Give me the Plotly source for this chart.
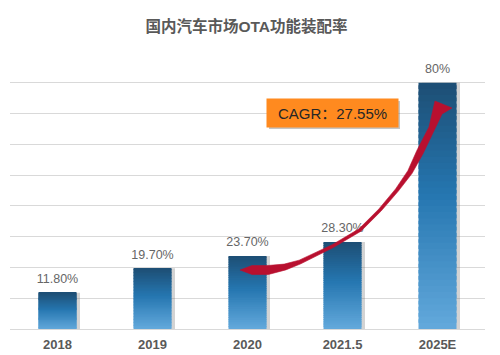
import math
import plotly.graph_objects as go

# ---- data ----
categories = ["2018", "2019", "2020", "2021.5", "2025E"]
values = [11.8, 19.7, 23.7, 28.3, 80.0]
value_labels = ["11.80%", "19.70%", "23.70%", "28.30%", "80%"]
title_text = "国内汽车市场OTA功能装配率"
cagr_text = "CAGR：27.55%"

FONT = "Arial, 'Liberation Sans', 'Noto Sans CJK SC', sans-serif"

# plot area in pixels (for decorative shapes)
X0, X1, YT, YB = 10, 485, 52, 329


def pp(x, y):
    return (x - X0) / (X1 - X0), (YB - y) / (YB - YT)


def hex2rgb(h):
    h = h.lstrip("#")
    return tuple(int(h[i:i + 2], 16) for i in (0, 2, 4))


stops = [(0.0, hex2rgb("#63a9dc")), (0.55, hex2rgb("#2576b0")), (1.0, hex2rgb("#1d4e74"))]


def grad(f):
    for (f0, c0), (f1, c1) in zip(stops[:-1], stops[1:]):
        if f0 <= f <= f1:
            t = (f - f0) / (f1 - f0)
            return "rgb(%d,%d,%d)" % tuple(round(a + (b - a) * t) for a, b in zip(c0, c1))
    return "rgb(%d,%d,%d)" % stops[-1][1]


fig = go.Figure()

# soft shadow to the right of each bar
fig.add_trace(go.Bar(
    x=categories, y=values, base=[0] * len(values), width=0.4, offset=-0.2 + 3.5 / 95,
    marker=dict(color="rgba(110,110,110,0.30)", line=dict(width=0)),
    hoverinfo="skip", showlegend=False,
))

# gradient bars built from overlapping slices of each value
N = 40
for k in range(N):
    f = (k + 0.5) / N
    top = min((k + 1.6) / N, 1.0)
    fig.add_trace(go.Bar(
        x=categories,
        y=[v * (top - k / N) for v in values],
        base=[v * k / N for v in values],
        width=0.4,
        marker=dict(color=grad(f), line=dict(width=0)),
        hoverinfo="skip", showlegend=False,
    ))

# value labels (invisible markers lift the text a little above the bar tops)
fig.add_trace(go.Scatter(
    x=categories, y=values, mode="markers+text", text=value_labels,
    textposition="top center",
    marker=dict(size=9, opacity=0),
    textfont=dict(family=FONT, size=12.5, color="#666666"),
    hoverinfo="skip", showlegend=False,
))

# curved CAGR arrow (decorative), centreline with thickness, in pixels
centre = [(240, 270, 0), (252, 270, 9), (268, 270, 9), (285, 267, 6), (300, 262, 4),
          (333, 246, 3), (360, 230, 3), (380, 210, 3), (397, 190, 3.5), (410, 172, 5),
          (420, 152, 7)]
head = [(429, 127), (435, 101), (452, 108), (442, 114)]
upper, lower = [], []
for i, (x, y, t) in enumerate(centre):
    xa, ya = centre[max(i - 1, 0)][:2]
    xb, yb = centre[min(i + 1, len(centre) - 1)][:2]
    if i == len(centre) - 1:
        xb, yb = 436, 120
    dx, dy = xb - xa, yb - ya
    L = math.hypot(dx, dy)
    nx, ny = -dy / L, dx / L
    upper.append((x - nx * t / 2, y - ny * t / 2))
    lower.append((x + nx * t / 2, y + ny * t / 2))
outline = upper + head + lower[::-1]
pts = [pp(x, y) for x, y in outline]
path = "M " + " L ".join("%.4f,%.4f" % p for p in pts) + " Z"
fig.add_shape(type="path", xref="paper", yref="paper", path=path,
              fillcolor="#b8102f", line=dict(width=0.6, color="#b8102f"), layer="above")

# CAGR box shadow
sx0, sy0 = pp(269, 129)
sx1, sy1 = pp(400, 101)
fig.add_shape(type="rect", xref="paper", yref="paper", x0=sx0, y0=sy0, x1=sx1, y1=sy1,
              fillcolor="rgba(90,90,90,0.35)", line=dict(width=0), layer="above")

cx, cy = pp(332.5, 113)
fig.add_annotation(
    xref="paper", yref="paper", x=cx, y=cy, xanchor="center", yanchor="middle",
    text=cagr_text, showarrow=False,
    font=dict(family=FONT, size=15, color="#262626"),
    bgcolor="#ff8a1f", width=125, height=22, borderpad=3, align="center",
)

fig.update_layout(
    width=500, height=355,
    margin=dict(l=X0, r=500 - X1, t=YT, b=355 - YB, autoexpand=False),
    paper_bgcolor="white", plot_bgcolor="white",
    barmode="overlay", bargap=0.6,
    showlegend=False,
    title=dict(text="<b>" + title_text + "</b>", x=0.493, xanchor="center", y=1 - 27 / 355,
               yanchor="middle", font=dict(family=FONT, size=15.5, color="#595959")),
    font=dict(family=FONT),
)
fig.update_xaxes(
    type="category", categoryorder="array", categoryarray=categories,
    showgrid=False, showline=False, ticks="", ticklabelstandoff=6, automargin=False,
    tickfont=dict(family=FONT, size=13, color="#595959", weight="bold"),
    fixedrange=True,
)
fig.update_yaxes(
    range=[0, 90], dtick=10, showgrid=True, gridcolor="#d9d9d9", gridwidth=1,
    zeroline=True, zerolinecolor="#d9d9d9", zerolinewidth=1, automargin=False,
    showticklabels=False, fixedrange=True,
)

fig.write_html("out.html", config={"displayModeBar": False},
               post_script="document.body.style.margin='0';")
